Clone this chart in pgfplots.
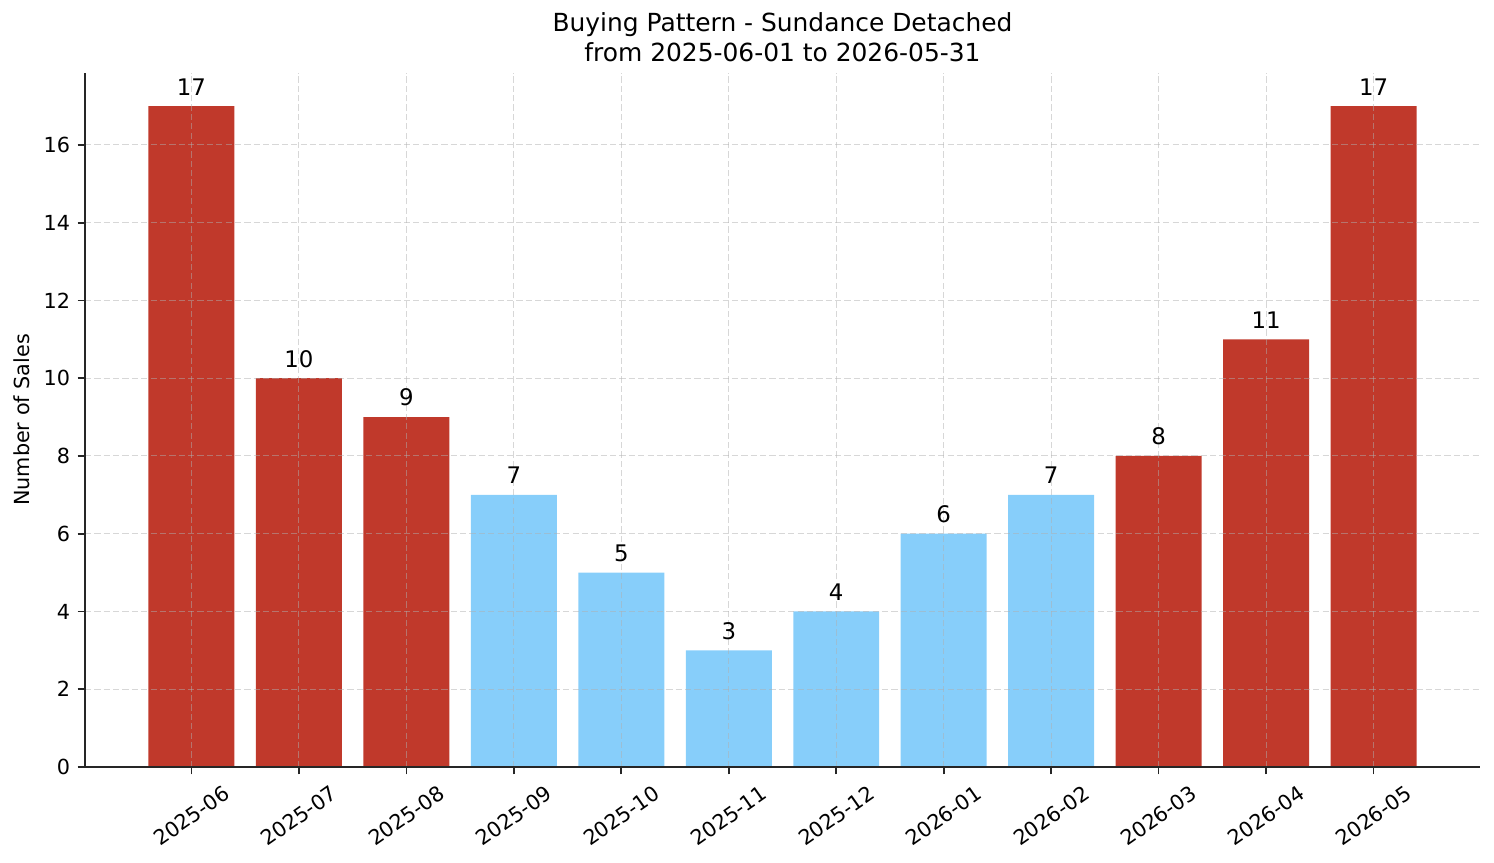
\documentclass[border=0pt]{standalone}
\usepackage{fontspec}
\setmainfont{DejaVu Sans}
\usepackage{pgfplots}
\pgfplotsset{compat=1.18}
\definecolor{redbar}{HTML}{C0392B}
\definecolor{bluebar}{HTML}{87CEFA}
\definecolor{gridc}{HTML}{B0B0B0}
\begin{document}
\begin{tikzpicture}
\begin{axis}[
  scale only axis, width=669.6bp, height=333.1bp,
  xmin=-0.99, xmax=11.99, ymin=0, ymax=17.85,
  axis lines=left, axis line style={-, line width=0.8bp, black!85},
  tick align=outside, tick pos=left,
  major tick length=3.5bp, tick style={line width=0.8bp, black!85},
  xtick={0,...,11},
  xticklabels={2025-06,2025-07,2025-08,2025-09,2025-10,2025-11,2025-12,2026-01,2026-02,2026-03,2026-04,2026-05},
  ytick={0,2,...,16},
  /pgf/number format/assume math mode=true,
  ticklabel style={font=\fontsize{10}{12}\selectfont},
  xticklabel style={yshift=-20bp, rotate=35, anchor=center},
  yticklabel style={inner sep=0pt, xshift=-3.5bp},
  grid=major, grid style={dash pattern=on 3bp off 1.5bp, gridc, draw opacity=0.5, line width=0.5bp},
  axis on top,
  ybar, bar width=0.8, bar shift=0pt,
  nodes near coords,
  nodes near coords style={font=\fontsize{11}{13}\selectfont, anchor=south, inner sep=0pt, yshift=5bp, black},
  ylabel={Number of Sales},
  every axis y label/.style={at={(axis description cs:-0.045,0.5)}, rotate=90, anchor=center, font=\fontsize{10}{12}\selectfont},
  title={Buying Pattern - Sundance Detached\\from 2025-06-01 to 2026-05-31},
  title style={align=center, font=\fontsize{12}{14.4}\selectfont, at={(axis description cs:0.5,1)}, anchor=south, yshift=-1bp, inner sep=0pt},
]
\addplot[fill=redbar, draw=none] coordinates {(0,17) (1,10) (2,9) (9,8) (10,11) (11,17)};
\addplot[fill=bluebar, draw=none] coordinates {(3,7) (4,5) (5,3) (6,4) (7,6) (8,7)};
\end{axis}
\pgfresetboundingbox
\path (current axis.south west) ++(-40.8bp,-46.08bp) rectangle ([shift={(6.72bp,35.04bp)}]current axis.north east);
\end{tikzpicture}
\end{document}
